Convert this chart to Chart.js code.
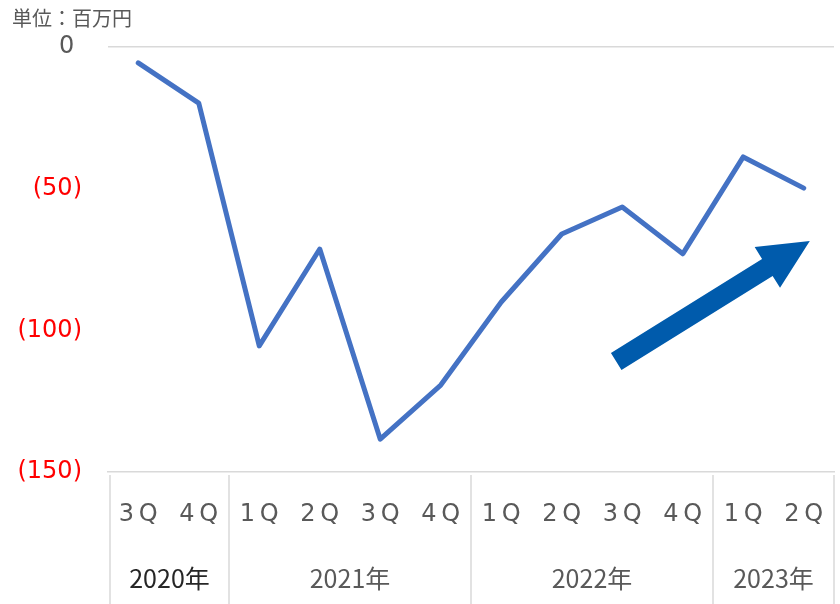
<!DOCTYPE html>
<html>
<head>
<meta charset="utf-8">
<script src="https://cdn.jsdelivr.net/npm/chart.js@4"></script>
<style>
  html, body { margin: 0; padding: 0; background: #fff; }
  #wrap { width: 840px; height: 604px; }
</style>
</head>
<body>
<div id="wrap"><canvas id="c"></canvas></div>
<script>
// quarters and values (millions of yen)
const quarters = ['3Q', '4Q', '1Q', '2Q', '3Q', '4Q', '1Q', '2Q', '3Q', '4Q', '1Q', '2Q'];
const values = [-5.6, -19.8, -105.5, -71.3, -138.4, -119.3, -90, -66, -56.5, -73, -38.8, -49.8];
const years = ['2020年', '2021年', '2022年', '2023年'];
const yearSpans = [2, 4, 4, 2];
const yTicks = [0, -50, -100, -150];
// trend arrow, in category index / value units
const arrowFrom = { x: 7.9, y: -111 };
const arrowTo = { x: 11.1, y: -68.5 };

const extras = {
  id: 'extras',
  afterDraw(chart) {
    const ctx = chart.ctx;
    const xs = chart.scales.x, ys = chart.scales.y;
    const area = chart.chartArea;
    ctx.save();

    // unit caption
    ctx.fillStyle = '#595959';
    ctx.font = '20px "Noto Sans CJK JP"';
    ctx.textAlign = 'left';
    ctx.textBaseline = 'middle';
    ctx.fillText('単位：百万円', 12, 18);

    // quarter labels
    ctx.font = '24px "DejaVu Sans"';
    ctx.textAlign = 'center';
    ctx.fillStyle = '#595959';
    quarters.forEach((q, i) => {
      ctx.fillText(q.replace('Q', '\u2009Q'), xs.getPixelForValue(i), 515);
    });

    // year group separators and labels
    ctx.strokeStyle = '#D9D9D9';
    ctx.lineWidth = 1.5;
    let start = 0;
    const edge = i => i === 0 ? area.left + 2 : (i >= quarters.length ? area.right : (xs.getPixelForValue(i - 1) + xs.getPixelForValue(i)) / 2);
    years.forEach((y, k) => {
      const x0 = edge(start), x1 = edge(start + yearSpans[k]);
      ctx.beginPath();
      ctx.moveTo(x0, area.bottom + 3);
      ctx.lineTo(x0, 604);
      ctx.stroke();
      if (k === years.length - 1) {
        ctx.beginPath();
        ctx.moveTo(x1, area.bottom + 3);
        ctx.lineTo(x1, 604);
        ctx.stroke();
      }
      ctx.fillStyle = k === 0 ? '#262626' : '#595959';
      ctx.font = '25px "Noto Sans CJK JP"';
      ctx.textAlign = 'center';
      ctx.fillText(y, (x0 + x1) / 2, 578);
      start += yearSpans[k];
    });

    // arrow
    const ax = xs.getPixelForValue(arrowFrom.x), ay = ys.getPixelForValue(arrowFrom.y);
    const bx = xs.getPixelForValue(arrowTo.x), by = ys.getPixelForValue(arrowTo.y);
    const ang = Math.atan2(by - ay, bx - ax);
    const len = Math.hypot(bx - ax, by - ay);
    ctx.translate(ax, ay);
    ctx.rotate(ang);
    const shaft = 10, head = 24, headLen = 50;
    ctx.fillStyle = '#005BAC';
    ctx.beginPath();
    ctx.moveTo(0, -shaft);
    ctx.lineTo(len - headLen, -shaft);
    ctx.lineTo(len - headLen, -head);
    ctx.lineTo(len, 0);
    ctx.lineTo(len - headLen, head);
    ctx.lineTo(len - headLen, shaft);
    ctx.lineTo(0, shaft);
    ctx.closePath();
    ctx.fill();
    ctx.restore();
  }
};

new Chart(document.getElementById('c'), {
  type: 'line',
  data: {
    labels: quarters,
    datasets: [{
      data: values,
      borderColor: '#4472C4',
      borderWidth: 5,
      pointRadius: 0,
      tension: 0,
      borderCapStyle: 'round',
      borderJoinStyle: 'round'
    }]
  },
  options: {
    responsive: true,
    maintainAspectRatio: false,
    animation: false,
    layout: { padding: { top: 47, right: 6, left: 0, bottom: 0 } },
    plugins: { legend: { display: false }, tooltip: { enabled: false } },
    scales: {
      x: {
        offset: true,
        grid: { display: false, drawTicks: false },
        border: { display: true, color: '#D9D9D9', width: 1.5 },
        ticks: { display: false },
        afterFit: s => { s.height = 132; }
      },
      y: {
        min: -150,
        max: 0,
        afterBuildTicks: s => { s.ticks = yTicks.map(v => ({ value: v })); },
        grid: {
          drawTicks: false,
          color: c => c.tick && c.tick.value === 0 ? '#D9D9D9' : 'rgba(0,0,0,0)',
          lineWidth: 1.5
        },
        border: { display: false },
        ticks: {
          padding: 26,
          color: c => c.tick.value < 0 ? '#FF0000' : '#595959',
          font: { family: 'DejaVu Sans', size: 24 },
          callback: v => v < 0 ? '(' + Math.abs(v) + ')' : v + ' '
        },
        afterFit: s => { s.width = 108; }
      }
    }
  },
  plugins: [extras]
});
</script>
</body>
</html>
